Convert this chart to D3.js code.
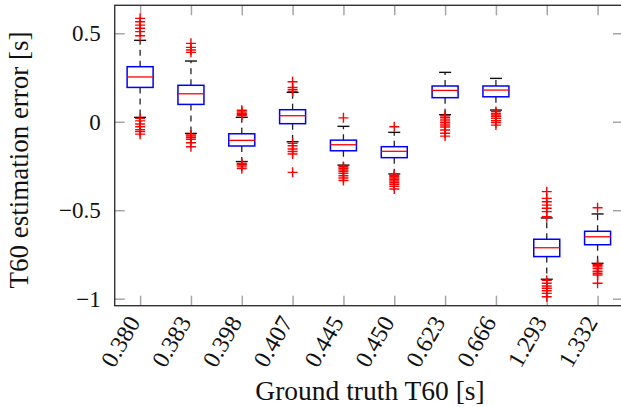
<!DOCTYPE html>
<html>
<head>
<meta charset="utf-8">
<script src="https://cdn.jsdelivr.net/npm/d3@7/dist/d3.min.js"></script>
<style>
body { margin: 0; background: #fff; }
text { font-family: "Liberation Serif", "Times New Roman", serif; fill: #111; }
</style>
</head>
<body>
<div id="chart"></div>
<script>
// ground truth T60 values (categories on x)
var categories = ["0.380", "0.383", "0.398", "0.407", "0.445", "0.450", "0.623", "0.666", "1.293", "1.332"];
// box statistics
var q1 =          [0.194, 0.098, -0.137, -0.011, -0.164, -0.203, 0.136, 0.141, -0.762, -0.695];
var medians =     [0.253, 0.158, -0.105,  0.034, -0.130, -0.167, 0.177, 0.179, -0.712, -0.650];
var q3 =          [0.311, 0.206, -0.068,  0.068, -0.104, -0.141, 0.202, 0.202, -0.664, -0.619];
var whiskerLow =  [0.025, -0.066, -0.225, -0.113, -0.245, -0.295, 0.040, 0.066, -0.890, -0.800];
var whiskerHigh = [0.460, 0.343, 0.025, 0.166, -0.026, -0.060, 0.279, 0.245, -0.544, -0.521];
var outliers = [
	[0.584, 0.565, 0.546, 0.528, 0.509, 0.486, 0.019, 0.005, -0.013, -0.028, -0.045, -0.056, -0.07],
	[0.443, 0.42, 0.405, 0.392, -0.075, -0.081, -0.09, -0.099, -0.119, -0.141],
	[0.065, 0.06, 0.05, 0.045, 0.04, 0.035, -0.235, -0.24, -0.245, -0.255, -0.265],
	[0.226, 0.194, 0.183, 0.172, -0.122, -0.136, -0.154, -0.168, -0.182, -0.286],
	[0.022, -0.254, -0.263, -0.273, -0.282, -0.292, -0.305, -0.318, -0.332],
	[-0.028, -0.302, -0.31, -0.318, -0.326, -0.335, -0.345, -0.355, -0.365, -0.38],
	[0.035, 0.025, 0.015, 0.005, -0.006, -0.018, -0.03, -0.047, -0.065, -0.081],
	[0.058, 0.047, 0.038, 0.03, 0.019, 0.006, -0.005, -0.019],
	[-0.395, -0.433, -0.452, -0.471, -0.489, -0.508, -0.537, -0.896, -0.913, -0.928, -0.941, -0.955, -0.97, -0.989],
	[-0.486, -0.805, -0.812, -0.82, -0.83, -0.845, -0.856, -0.866, -0.913]
];
var yTicks = [-1, -0.5, 0, 0.5];

function init() {
	var w = 621, h = 407;
	var left = 114.7, right = 623, top = 5.3, bottom = 305.7;
	var step = (right - left) / categories.length;
	var boxHalf = 13, capHalf = 6, plus = 5, tickLen = 10;
	var serif = "'Liberation Serif', serif";

	var svg = d3.select("#chart").append("svg")
		.attr("width", w)
		.attr("height", h);

	var xScale = d3.scalePoint()
		.domain(categories)
		.range([left + step / 2, right - step / 2]);

	var yScale = d3.scaleLinear()
		.domain([-1.0395, 0.658])
		.range([bottom, top]);

	//Axes: inward grey ticks on all four sides
	var fmt = d3.format("~g");
	var gx = svg.append("g").attr("transform", "translate(0," + bottom + ")")
		.call(d3.axisBottom(xScale).tickSize(-tickLen).tickFormat(""));
	var gxt = svg.append("g").attr("transform", "translate(0," + top + ")")
		.call(d3.axisTop(xScale).tickSize(-tickLen).tickFormat(""));
	var gy = svg.append("g").attr("transform", "translate(" + left + ",0)")
		.call(d3.axisLeft(yScale).tickValues(yTicks).tickSize(-tickLen).tickPadding(14).tickFormat(fmt));
	var gyr = svg.append("g").attr("transform", "translate(" + right + ",0)")
		.call(d3.axisRight(yScale).tickValues(yTicks).tickSize(-tickLen).tickFormat(""));
	[gx, gxt, gy, gyr].forEach(function(g) {
		g.attr("font-family", null).attr("font-size", null);
		g.select(".domain").remove();
		g.selectAll(".tick line").attr("stroke", "#a6a6a6").attr("stroke-width", 1.5);
	});
	gy.selectAll(".tick text")
		.style("font-family", serif)
		.style("font-size", "23px")
		.attr("fill", "#111");

	//rotated x tick labels
	svg.append("g").selectAll("text")
		.data(categories)
		.enter()
		.append("text")
		.attr("text-anchor", "end")
		.attr("transform", function(d) {
			return "translate(" + (xScale(d) + 1) + "," + (bottom + 16.5) + ")rotate(-60)";
		})
		.style("font-family", serif)
		.style("font-size", "24px")
		.text(function(d) { return d; });

	//frame
	svg.append("rect")
		.attr("x", left).attr("y", top)
		.attr("width", right - left).attr("height", bottom - top)
		.attr("fill", "none")
		.attr("stroke", "#333")
		.attr("stroke-width", 1.4);

	//boxes
	var boxes = svg.append("g").selectAll("g")
		.data(categories)
		.enter()
		.append("g");

	//dashed whiskers
	boxes.append("line")
		.attr("x1", function(d) { return xScale(d); })
		.attr("x2", function(d) { return xScale(d); })
		.attr("y1", function(d, i) { return yScale(q3[i]); })
		.attr("y2", function(d, i) { return yScale(whiskerHigh[i]); })
		.attr("stroke", "#222").attr("stroke-width", 1.3).attr("stroke-dasharray", "6,5");
	boxes.append("line")
		.attr("x1", function(d) { return xScale(d); })
		.attr("x2", function(d) { return xScale(d); })
		.attr("y1", function(d, i) { return yScale(q1[i]); })
		.attr("y2", function(d, i) { return yScale(whiskerLow[i]); })
		.attr("stroke", "#222").attr("stroke-width", 1.3).attr("stroke-dasharray", "6,5");

	//caps
	[whiskerHigh, whiskerLow].forEach(function(arr) {
		boxes.append("line")
			.attr("x1", function(d) { return xScale(d) - capHalf; })
			.attr("x2", function(d) { return xScale(d) + capHalf; })
			.attr("y1", function(d, i) { return yScale(arr[i]); })
			.attr("y2", function(d, i) { return yScale(arr[i]); })
			.attr("stroke", "#111").attr("stroke-width", 1.4);
	});

	boxes.append("rect")
		.attr("x", function(d) { return xScale(d) - boxHalf; })
		.attr("width", boxHalf * 2)
		.attr("y", function(d, i) { return yScale(q3[i]); })
		.attr("height", function(d, i) { return yScale(q1[i]) - yScale(q3[i]); })
		.attr("fill", "#fff")
		.attr("stroke", "#0000ff")
		.attr("stroke-width", 1.5);

	boxes.append("line")
		.attr("x1", function(d) { return xScale(d) - boxHalf; })
		.attr("x2", function(d) { return xScale(d) + boxHalf; })
		.attr("y1", function(d, i) { return yScale(medians[i]); })
		.attr("y2", function(d, i) { return yScale(medians[i]); })
		.attr("stroke", "#ff0000").attr("stroke-width", 1.3);

	//outliers as red +
	boxes.selectAll("path.out")
		.data(function(d, i) {
			return outliers[i].map(function(v) { return { cat: d, v: v }; });
		})
		.enter()
		.append("path")
		.attr("class", "out")
		.attr("d", function(o) {
			var cx = xScale(o.cat), cy = yScale(o.v);
			return "M" + (cx - plus) + "," + cy + "H" + (cx + plus) +
				"M" + cx + "," + (cy - plus) + "V" + (cy + plus);
		})
		.attr("stroke", "#ff0000")
		.attr("stroke-width", 1.4)
		.attr("fill", "none");

	//axis labels
	svg.append("text")
		.attr("x", 370)
		.attr("y", 400)
		.attr("text-anchor", "middle")
		.style("font-family", serif)
		.style("font-size", "27.5px")
		.text("Ground truth T60 [s]");

	svg.append("text")
		.attr("text-anchor", "middle")
		.attr("transform", "translate(28,160)rotate(-90)")
		.style("font-family", serif)
		.style("font-size", "27px")
		.text("T60 estimation error [s]");
}
window.onload = init;
</script>
</body>
</html>
